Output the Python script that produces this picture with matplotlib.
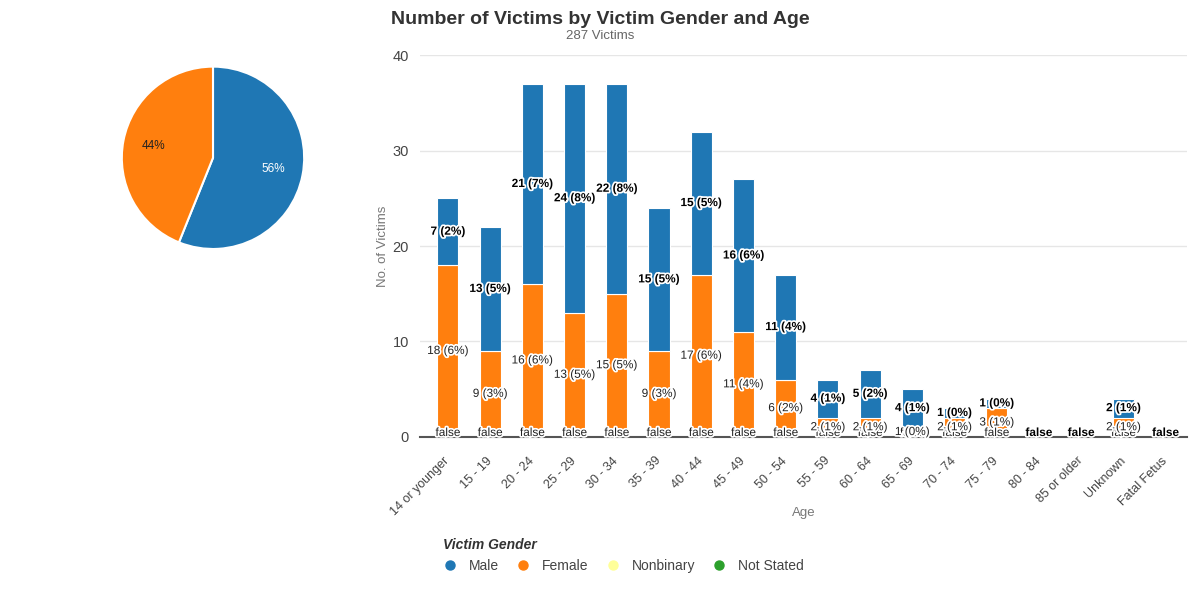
import matplotlib.pyplot as plt
import matplotlib.patheffects as pe
from matplotlib.lines import Line2D
import numpy as np

plt.rcParams['font.family'] = ['Liberation Sans', 'DejaVu Sans']

ages = ["14 or younger", "15 - 19", "20 - 24", "25 - 29", "30 - 34", "35 - 39",
        "40 - 44", "45 - 49", "50 - 54", "55 - 59", "60 - 64", "65 - 69",
        "70 - 74", "75 - 79", "80 - 84", "85 or older", "Unknown", "Fatal Fetus"]
female = [18, 9, 16, 13, 15, 9, 17, 11, 6, 2, 2, 1, 2, 3, 0, 0, 2, 0]
male = [7, 13, 21, 24, 22, 15, 15, 16, 11, 4, 5, 4, 1, 1, 0, 0, 2, 0]
total_victims = 287

genders = ["Male", "Female", "Nonbinary", "Not Stated"]
colors = ["#1f77b4", "#ff7f0e", "#ffff99", "#2ca02c"]

fig = plt.figure(figsize=(12, 6), dpi=100)

# pie on the left
ax_pie = fig.add_axes([0.1, 0.582, 0.155, 0.31])
pie_vals = [sum(male), sum(female)]
wedges, texts, autotexts = ax_pie.pie(pie_vals, colors=colors[:2], startangle=90, counterclock=False,
                                      autopct="%1.0f%%", pctdistance=0.67,
                                      wedgeprops=dict(edgecolor="white", linewidth=1.5),
                                      textprops=dict(fontsize=8.5))
autotexts[0].set_color("white")
autotexts[1].set_color("#222222")
ax_pie.set_xlim(-1.02, 1.02)
ax_pie.set_ylim(-1.02, 1.02)
ax_pie.set_aspect("equal")

# stacked bars
ax = fig.add_axes([0.35, 0.272, 0.639, 0.636])
x = np.arange(len(ages))
w = 0.5
ax.bar(x, female, w, color=colors[1], edgecolor="white", linewidth=0.8, zorder=2)
ax.bar(x, male, w, bottom=female, color=colors[0], edgecolor="white", linewidth=0.8, zorder=2)

halo = [pe.withStroke(linewidth=2.5, foreground="white")]
for i in x:
    f, m = female[i], male[i]
    if f > 0:
        ax.text(i, f / 2, f"{f} ({f / total_victims * 100:.0f}%)", ha="center", va="center",
                fontsize=8.5, color="#222222", path_effects=halo, zorder=4)
    if m > 0:
        ax.text(i, f + m / 2, f"{m} ({m / total_victims * 100:.0f}%)", ha="center", va="center",
                fontsize=8.5, color="black", fontweight="bold", path_effects=halo, zorder=5)
    bold = f == 0 and m == 0
    ax.text(i, 0.4, "false", ha="center", va="center", fontsize=8.5,
            color="black" if bold else "#222222", fontweight="bold" if bold else "normal",
            path_effects=halo, zorder=3)

ax.set_xlim(-0.66, 17.5)
ax.set_ylim(0, 40)
ax.set_yticks([0, 10, 20, 30, 40])
ax.yaxis.grid(True, color="#e6e6e6", linewidth=1, zorder=0)
ax.set_axisbelow(True)
for s in ["top", "right", "left"]:
    ax.spines[s].set_visible(False)
ax.spines["bottom"].set_color("#555555")
ax.spines["bottom"].set_linewidth(1.5)
ax.tick_params(axis="both", length=0, labelcolor="#444444")
ax.tick_params(axis="y", pad=8, labelsize=10.5)
ax.tick_params(axis="x", pad=16, labelsize=9)
ax.set_xticks(x)
ax.set_xticklabels(ages, rotation=45, ha="right", va="center", rotation_mode="anchor")
ax.set_ylabel("No. of Victims", color="#777777", fontsize=9.5)
ax.yaxis.set_label_coords(-0.04, 0.5)
ax.set_xlabel("Age", color="#777777", fontsize=9.5)
ax.xaxis.set_label_coords(0.5, -0.183)

fig.text(0.5, 0.968, "Number of Victims by Victim Gender and Age", ha="center", va="center",
         fontsize=14, fontweight="bold", color="#333333")
fig.text(0.5, 0.94, f"{total_victims} Victims", ha="center", va="center", fontsize=9.5, color="#666666")

handles = [Line2D([], [], marker="o", linestyle="", color=c, markersize=6.5) for c in colors]
leg = fig.legend(handles, genders, ncol=4, loc="upper left", bbox_to_anchor=(0.3645, 0.113),
                 frameon=False, title="Victim Gender", alignment="left", fontsize=10,
                 handlelength=1.0, handletextpad=0.85, columnspacing=1.25, borderaxespad=0,
                 title_fontproperties=dict(weight="bold", style="italic", size=10))
for t in leg.get_texts():
    t.set_color("#444444")
leg.get_title().set_color("#333333")

fig.savefig("out.png", dpi=100)
